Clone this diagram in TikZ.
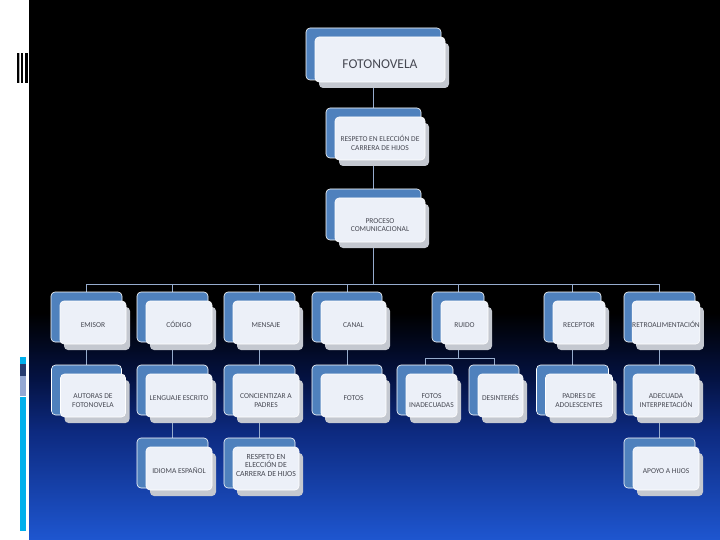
\documentclass[tikz,border=0pt]{standalone}
\usepackage{fontspec}
\setmainfont{Carlito}
\usetikzlibrary{positioning,calc,shadows}
\definecolor{cardblue}{RGB}{79,129,189}
\definecolor{cardfill}{RGB}{236,240,248}
\definecolor{cardshadow}{RGB}{196,200,208}
\definecolor{cardtext}{RGB}{70,72,82}
\definecolor{linkblue}{RGB}{150,172,205}
\definecolor{bgblue}{RGB}{30,86,208}
\definecolor{bgnavy}{RGB}{13,42,128}
\definecolor{bgdeep}{RGB}{4,18,66}
\definecolor{barcyan}{RGB}{0,176,236}
\definecolor{barnavy}{RGB}{38,60,112}
\definecolor{barlight}{RGB}{148,168,212}
\pgfdeclarelayer{bg}
\pgfdeclarelayer{edges}
\pgfsetlayers{bg,edges,main}
\pgfdeclareverticalshading{slidebg}{100bp}{color(0bp)=(bgblue); color(25bp)=(bgblue);
   color(35bp)=(bgnavy); color(40bp)=(bgdeep); color(46bp)=(black); color(100bp)=(black)}

\begin{document}
\begin{tikzpicture}[x=1pt,y=-1pt,
         back/.style = {draw=white,line width=0.6pt,fill=cardblue,rounded corners=4pt,
            inner sep=0pt,outer sep=0pt},
         front/.style = {draw=white,line width=0.6pt,fill=cardfill,rounded corners=4pt,
            inner sep=0pt,outer sep=0pt,text=cardtext,align=center,
            font=\fontsize{7.5}{8.6}\selectfont,
            execute at begin node={\rule{0pt}{1.33em}},
            copy shadow={shadow xshift=4pt,shadow yshift=-6pt,fill=cardshadow,draw=none}},
         tall/.style = {execute at begin node={\rule{0pt}{3.2em}}},
         deep/.style = {execute at begin node={},execute at end node={\rule[-0.8em]{0pt}{0pt}}},
         link/.style = {draw=linkblue,line width=0.7pt}
]
      \useasboundingbox (0,0) rectangle (720,540);

      % top levels
      \node[back,minimum width=135,minimum height=52] (fotonovela) at (373.5,54) {};
      \node[front,minimum width=130,minimum height=45,font=\fontsize{13.5}{15}\selectfont]
         (fotonovela-t) at ($(fotonovela)+(6.5,5.5)$) {FOTONOVELA};
      \node[back,minimum width=95,minimum height=50] (respeto) at (373.5,133) {};
      \node[front,tall,minimum width=90,minimum height=43] (respeto-t) at ($(respeto)+(6.5,5.5)$)
         {RESPETO EN ELECCIÓN DE\\CARRERA DE HIJOS};
      \node[back,minimum width=95,minimum height=51] (proceso) at (373.5,214.5) {};
      \node[front,tall,minimum width=90,minimum height=44] (proceso-t) at ($(proceso)+(6.5,5.5)$)
         {PROCESO\\COMUNICACIONAL};

      % elements of communication
      \node[back,minimum width=71,minimum height=50] (emisor) at (86.5,317) {};
      \node[front,minimum width=66,minimum height=43] (emisor-t) at ($(emisor)+(6.5,5.5)$) {EMISOR};
      \node[back,minimum width=71,minimum height=50] (codigo) at (172.5,317) {};
      \node[front,minimum width=66,minimum height=43] (codigo-t) at ($(codigo)+(6.5,5.5)$) {CÓDIGO};
      \node[back,minimum width=71,minimum height=50] (mensaje) at (259.5,317) {};
      \node[front,minimum width=66,minimum height=43] (mensaje-t) at ($(mensaje)+(6.5,5.5)$) {MENSAJE};
      \node[back,minimum width=70,minimum height=50] (canal) at (347,317) {};
      \node[front,minimum width=65,minimum height=43] (canal-t) at ($(canal)+(6.5,5.5)$) {CANAL};
      \node[back,minimum width=52,minimum height=50] (ruido) at (458,317) {};
      \node[front,minimum width=47,minimum height=43] (ruido-t) at ($(ruido)+(6.5,5.5)$) {RUIDO};
      \node[back,minimum width=57,minimum height=50] (receptor) at (572.5,317) {};
      \node[front,minimum width=52,minimum height=43] (receptor-t) at ($(receptor)+(6.5,5.5)$) {RECEPTOR};
      \node[back,minimum width=71,minimum height=50] (retro) at (659.5,317) {};
      \node[front,minimum width=66,minimum height=43] (retro-t) at ($(retro)+(6.5,5.5)$) {RETROALIMENTACIÓN};

      % second level
      \node[back,minimum width=70,minimum height=50] (autoras) at (86.5,390) {};
      \node[front,tall,minimum width=65,minimum height=43] (autoras-t) at ($(autoras)+(6.5,5.5)$)
         {AUTORAS DE\\FOTONOVELA};
      \node[back,minimum width=71,minimum height=50] (lenguaje) at (172.5,390) {};
      \node[front,minimum width=66,minimum height=43] (lenguaje-t) at ($(lenguaje)+(6.5,5.5)$)
         {LENGUAJE ESCRITO};
      \node[back,minimum width=71,minimum height=50] (concientizar) at (259.5,390) {};
      \node[front,tall,minimum width=66,minimum height=43] (concientizar-t) at ($(concientizar)+(6.5,5.5)$)
         {CONCIENTIZAR A\\PADRES};
      \node[back,minimum width=70,minimum height=50] (fotos) at (347,390) {};
      \node[front,minimum width=65,minimum height=43] (fotos-t) at ($(fotos)+(6.5,5.5)$) {FOTOS};
      \node[back,minimum width=56,minimum height=50] (inadecuadas) at (425,390) {};
      \node[front,tall,minimum width=51,minimum height=43] (inadecuadas-t) at ($(inadecuadas)+(6.5,5.5)$)
         {FOTOS\\INADECUADAS};
      \node[back,minimum width=50,minimum height=50] (desinteres) at (494,390) {};
      \node[front,minimum width=45,minimum height=43] (desinteres-t) at ($(desinteres)+(6.5,5.5)$)
         {DESINTERÉS};
      \node[back,minimum width=72,minimum height=50] (padres) at (572.5,390) {};
      \node[front,tall,minimum width=67,minimum height=43] (padres-t) at ($(padres)+(6.5,5.5)$)
         {PADRES DE\\ADOLESCENTES};
      \node[back,minimum width=71,minimum height=50] (adecuada) at (659.5,390) {};
      \node[front,tall,minimum width=66,minimum height=43] (adecuada-t) at ($(adecuada)+(6.5,5.5)$)
         {ADECUADA\\INTERPRETACIÓN};

      % third level
      \node[back,minimum width=71,minimum height=50] (idioma) at (172.5,463) {};
      \node[front,minimum width=66,minimum height=43] (idioma-t) at ($(idioma)+(6.5,5.5)$)
         {IDIOMA ESPAÑOL};
      \node[back,minimum width=71,minimum height=50] (respetohijos) at (259.5,463) {};
      \node[front,deep,minimum width=66,minimum height=43,font=\fontsize{7.8}{8.6}\selectfont]
         (respetohijos-t) at ($(respetohijos)+(6.5,5.5)$)
         {RESPETO EN\\ELECCIÓN DE\\CARRERA DE HIJOS};
      \node[back,minimum width=71,minimum height=50] (apoyo) at (659.5,463) {};
      \node[front,minimum width=66,minimum height=43] (apoyo-t) at ($(apoyo)+(6.5,5.5)$)
         {APOYO A HIJOS};

      % connectors behind the cards
      \begin{pgfonlayer}{edges}
         \coordinate (bus) at (0,284);
         \coordinate (rbus) at (0,358);
         \draw[link] (fotonovela) -- (respeto) -- (proceso) -- (proceso |- bus);
         \draw[link] (emisor) |- (proceso |- bus);
         \draw[link] (codigo) |- (proceso |- bus);
         \draw[link] (mensaje) |- (proceso |- bus);
         \draw[link] (canal) |- (proceso |- bus);
         \draw[link] (ruido) |- (proceso |- bus);
         \draw[link] (receptor) |- (proceso |- bus);
         \draw[link] (retro) |- (proceso |- bus);
         \draw[link] (emisor) -- (autoras);
         \draw[link] (codigo) -- (lenguaje) -- (idioma);
         \draw[link] (mensaje) -- (concientizar) -- (respetohijos);
         \draw[link] (canal) -- (fotos);
         \draw[link] (ruido) -- (ruido |- rbus);
         \draw[link] (inadecuadas) |- (ruido |- rbus);
         \draw[link] (desinteres) |- (ruido |- rbus);
         \draw[link] (receptor) -- (padres);
         \draw[link] (retro) -- (adecuada) -- (apoyo);
      \end{pgfonlayer}

      % slide background
      \begin{pgfonlayer}{bg}
         \fill[white] (0,0) rectangle (720,540);
         \shade[shading=slidebg] (29,0) rectangle (720,540);
         \fill[black] (17,53) rectangle (19,83);
         \fill[gray!60] (19.3,53) rectangle (20.3,83);
         \fill[black] (21,53) rectangle (23.3,83);
         \fill[black] (24.5,53) rectangle (28,83);
         \fill[barcyan] (20,357) rectangle (26,363.5);
         \fill[barnavy] (20,363.5) rectangle (26,375.5);
         \fill[barlight] (20,375.5) rectangle (26,395.5);
         \fill[barcyan] (20,397) rectangle (26,531);
      \end{pgfonlayer}
   \end{tikzpicture}
\end{document}
